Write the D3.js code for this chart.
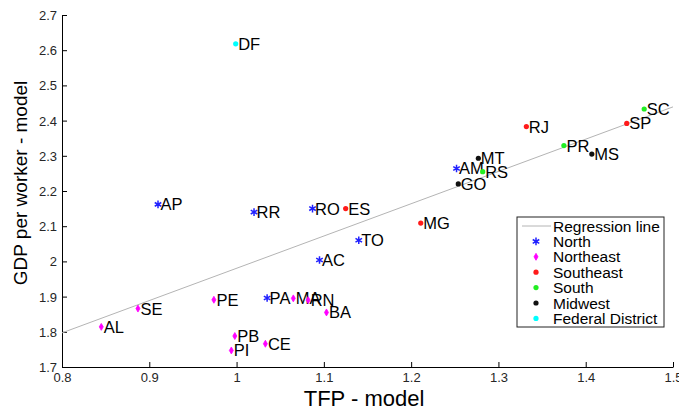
<!DOCTYPE html>
<html>
<head>
<meta charset="utf-8">
<script src="https://cdn.jsdelivr.net/npm/d3@7"></script>
<style>
  body { margin: 0; background: #fff; }
  text { font-family: "Liberation Sans", Arial, sans-serif; }
</style>
</head>
<body>
<svg width="679" height="410"></svg>
<script>
// state data: name, region, TFP, GDP per worker
var states  = ['DF','AP','RR','RO','ES','TO','AC','PE','PA','MA','RN','BA','SE','AL','PB','PI','CE','RJ','SC','SP','PR','MS','MT','AM','RS','GO','MG'];
var regions = ['Federal District','North','North','North','Southeast','North','North','Northeast','North','Northeast','Northeast','Northeast','Northeast','Northeast','Northeast','Northeast','Northeast','Southeast','South','Southeast','South','Midwest','Midwest','North','South','Midwest','Southeast'];
var tfp     = [0.999,0.910,1.020,1.087,1.125,1.140,1.095,0.974,1.035,1.065,1.082,1.103,0.887,0.845,0.998,0.994,1.033,1.332,1.467,1.447,1.375,1.407,1.277,1.252,1.282,1.254,1.211];
var gdp     = [2.618,2.162,2.140,2.150,2.150,2.060,2.004,1.891,1.896,1.895,1.890,1.855,1.866,1.814,1.788,1.747,1.766,2.383,2.433,2.392,2.329,2.305,2.293,2.264,2.255,2.220,2.109];
var regressionX = [0.8, 1.5];
var regressionY = [1.797, 2.439];
var legendNames = ['North','Northeast','Southeast','South','Midwest','Federal District'];
var xTicks = [0.8,0.9,1,1.1,1.2,1.3,1.4,1.5];
var yTicks = [1.7,1.8,1.9,2,2.1,2.2,2.3,2.4,2.5,2.6,2.7];

var colors = { 'North': '#2020ff', 'Northeast': '#ff00ff', 'Southeast': '#ff1a1a', 'South': '#22ee22', 'Midwest': '#111111', 'Federal District': '#00ffff' };

var svg = d3.select('svg');
var x = d3.scaleLinear().domain([0.8, 1.5]).range([62, 673]);
var y = d3.scaleLinear().domain([1.7, 2.7]).range([367, 15]);

// Axes (ticks pointing inward)
var xAxis = svg.append('g').attr('transform', 'translate(0,' + y(1.7) + ')')
  .call(d3.axisBottom(x).tickValues(xTicks).tickSizeInner(-5).tickSizeOuter(0).tickPadding(9).tickFormat(d3.format('')));
var yAxis = svg.append('g').attr('transform', 'translate(' + x(0.8) + ',0)')
  .call(d3.axisLeft(y).tickValues(yTicks).tickSizeInner(-5).tickSizeOuter(0).tickPadding(5).tickFormat(d3.format('')));
[xAxis, yAxis].forEach(function(a){
  a.selectAll('text').style('font-size', '13px').style('fill', '#262626');
  a.selectAll('line, path').style('stroke', '#000');
});
xAxis.selectAll('text').attr('dy', '0.45em');
yAxis.selectAll('text').attr('dy', '0.35em');

// Axis titles
svg.append('text').attr('x', 364).attr('y', 406).attr('text-anchor', 'middle')
  .style('font-size', '22px').text('TFP - model');
svg.append('text').attr('transform', 'translate(27,183) rotate(-90)').attr('text-anchor', 'middle')
  .style('font-size', '19px').text('GDP per worker - model');

// Regression line
svg.append('line')
  .attr('x1', x(regressionX[0])).attr('y1', y(regressionY[0]))
  .attr('x2', x(regressionX[1])).attr('y2', y(regressionY[1]))
  .style('stroke', '#b4b4b4').style('stroke-width', 1);

function drawMarker(g, region, cx, cy){
  var c = colors[region];
  if(region == 'North'){
    g.append('path').attr('transform', 'translate(' + cx + ',' + cy + ')')
      .attr('d', d3.symbol().type(d3.symbolAsterisk).size(40)())
      .style('fill', 'none').style('stroke', c).style('stroke-width', 1.5);
  } else if(region == 'Northeast'){
    g.append('path').attr('transform', 'translate(' + cx + ',' + cy + ')')
      .attr('d', d3.symbol().type(d3.symbolDiamond).size(14)())
      .style('fill', c).style('stroke', c).style('stroke-width', 0.8);
  } else {
    g.append('circle').attr('cx', cx).attr('cy', cy).attr('r', 2.6).style('fill', c);
  }
}

// Points and labels
var pts = svg.append('g');
states.forEach(function(s, i){
  var cx = x(tfp[i]), cy = y(gdp[i]);
  drawMarker(pts, regions[i], cx, cy);
  pts.append('text').attr('x', cx + 2.5).attr('y', cy).attr('dy', '0.36em')
    .style('font-size', '16.5px').style('fill', '#000').text(s);
});

// Legend
var lg = svg.append('g').attr('transform', 'translate(517,217)');
lg.append('rect').attr('width', 147).attr('height', 110).style('fill', 'white').style('stroke', '#222').style('stroke-width', 1);
lg.append('line').attr('x1', 5).attr('x2', 34).attr('y1', 9).attr('y2', 9).style('stroke', '#b4b4b4');
lg.append('text').attr('x', 36).attr('y', 9).attr('dy', '0.36em').style('font-size', '15.5px').text('Regression line');
legendNames.forEach(function(n, i){
  var ly = 9 + (i + 1) * 15.4;
  drawMarker(lg, n, 19, ly);
  lg.append('text').attr('x', 36).attr('y', ly).attr('dy', '0.36em').style('font-size', '15.5px').text(n);
});
</script>
</body>
</html>
